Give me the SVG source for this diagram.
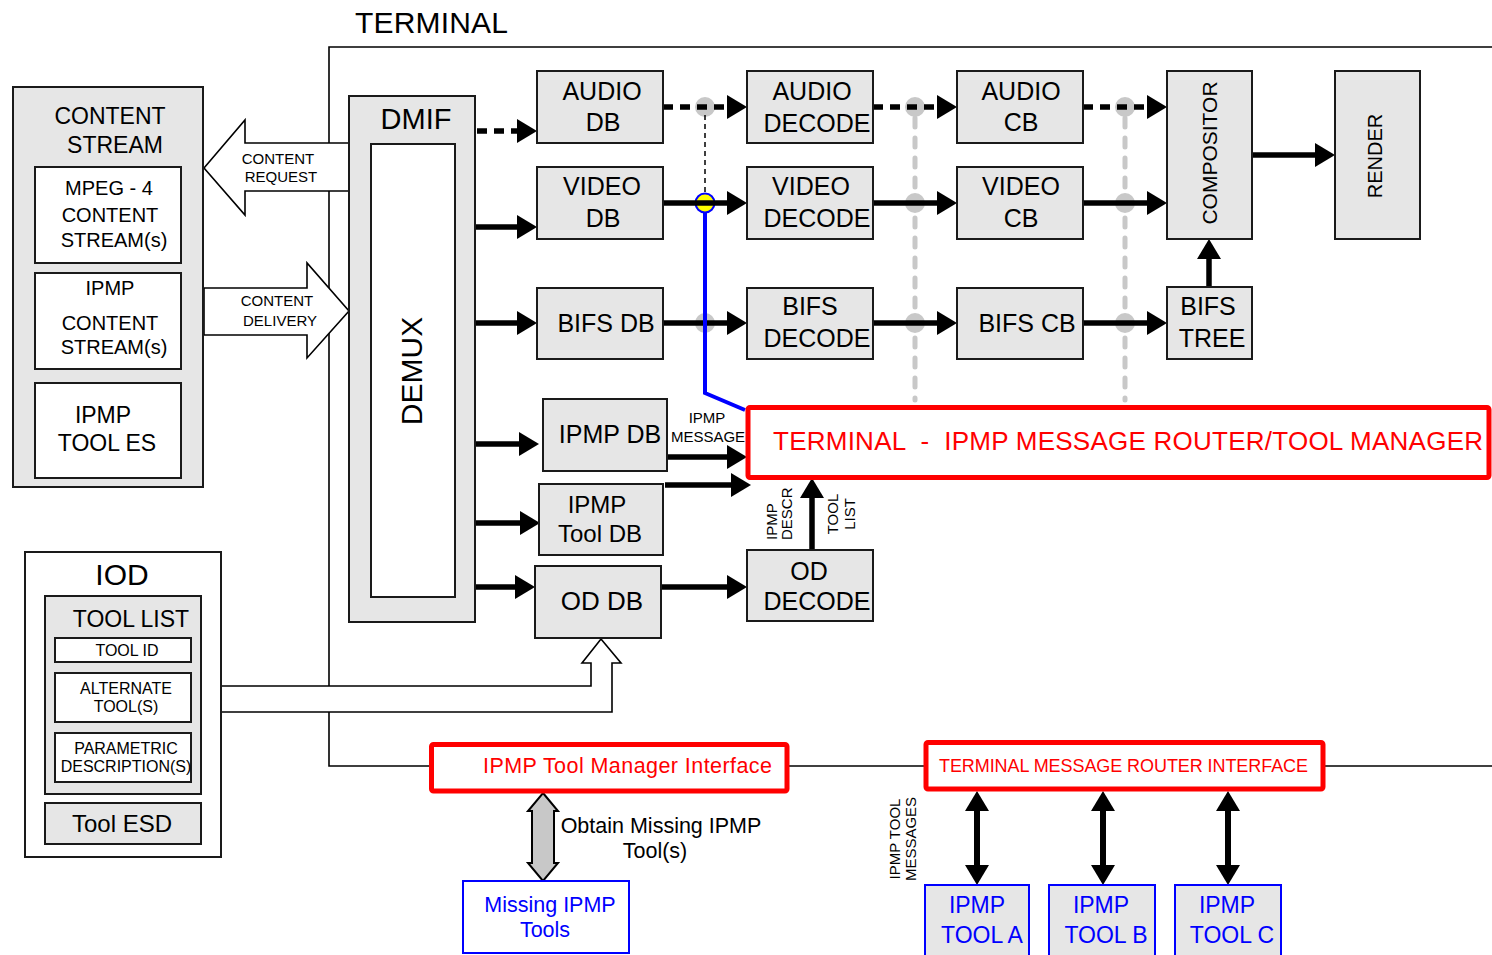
<svg xmlns="http://www.w3.org/2000/svg" width="1492" height="955" viewBox="0 0 1492 955">
<style>
text{font-family:"Liberation Sans",Arial,sans-serif;fill:#000}
.g{fill:#e6e6e6;stroke:#1a1a1a;stroke-width:2}
.w{fill:#fff;stroke:#1a1a1a;stroke-width:2}
.c{text-anchor:middle}
.f25{font-size:25px}
.f23{font-size:23px}
.f20{font-size:20px}
.f15{font-size:15px}
.f16{font-size:16px}
.ln{fill:none;stroke:#000;stroke-width:1.6}
.ar{fill:none;stroke:#000;stroke-width:5.5;marker-end:url(#ah)}
.da{stroke-dasharray:10 7}
.dbl{fill:none;stroke:#000;stroke-width:6;marker-start:url(#ah);marker-end:url(#ah)}
.gd{fill:none;stroke:#c8c8c8;stroke-width:5;stroke-linecap:round;stroke-dasharray:9 11}
.dot{fill:#c8c8c8}
.hol{fill:#fff;stroke:#000;stroke-width:1.6}
.red{fill:#fff;stroke:#ff0000;stroke-width:5}
.rt{fill:#ff0000}
.blu{fill:#fff;stroke:#0000ff;stroke-width:2}
.bg{fill:#e6e6e6;stroke:#0000ff;stroke-width:2}
.bt{fill:#0000ff}
</style>
<defs>
<marker id="ah" markerUnits="userSpaceOnUse" markerWidth="20" markerHeight="24" viewBox="0 0 20 24" refX="0" refY="12" orient="auto-start-reverse"><path d="M0,0 L20,12 L0,24 z" fill="#000"/></marker>
</defs>

<text x="355" y="33" font-size="30" textLength="153">TERMINAL</text>

<g id="terminal-outline">
<path class="ln" d="M1492,47 H329 V766 H431"/>
<path class="ln" d="M787,766 H926"/>
<path class="ln" d="M1323,766 H1492"/>
</g>

<g id="connectors">
<polygon class="hol" points="204,168 245,120 245,143 349,143 349,191 245,191 245,215"/>
<text class="c f15" x="278" y="164">CONTENT</text>
<text class="c f15" x="281" y="182">REQUEST</text>
<polygon class="hol" points="204,288 307,288 307,263 349,311 307,358 307,335 204,335"/>
<text class="c f15" x="277" y="306">CONTENT</text>
<text class="c f15" x="280" y="326">DELIVERY</text>
<polygon class="hol" points="221,686 591,686 591,663 582,663 601,639 621,663 612,663 612,712 221,712"/>

<path class="gd" d="M915,118 V400"/>
<path class="gd" d="M1125,118 V400"/>
<circle class="dot" cx="705" cy="107" r="10"/>
<circle class="dot" cx="705" cy="323" r="10"/>
<circle class="dot" cx="915" cy="107" r="10"/>
<circle class="dot" cx="915" cy="203" r="10"/>
<circle class="dot" cx="915" cy="323" r="10"/>
<circle class="dot" cx="1125" cy="107" r="10"/>
<circle class="dot" cx="1125" cy="203" r="10"/>
<circle class="dot" cx="1125" cy="323" r="10"/>
<path d="M705,115 V203" fill="none" stroke="#000" stroke-width="1.5" stroke-dasharray="5 4"/>
<circle cx="705" cy="203" r="9.5" fill="#ffff00" stroke="#0000ff" stroke-width="2"/>

<path class="ar da" d="M477,131 H517"/>
<path class="ar" d="M475,227 H517"/>
<path class="ar" d="M475,323 H517"/>
<path class="ar" d="M457,444 H519" stroke-linecap="round"/>
<path class="ar" d="M453,523 H520" stroke-linecap="round"/>
<path class="ar" d="M475,587 H515"/>
<path class="ar da" d="M663,107 H727"/>
<path class="ar" d="M663,203 H727"/>
<path class="ar" d="M663,323 H727"/>
<path class="ar da" d="M873,107 H937"/>
<path class="ar" d="M873,203 H937"/>
<path class="ar" d="M873,323 H937"/>
<path class="ar da" d="M1083,107 H1147"/>
<path class="ar" d="M1083,203 H1147"/>
<path class="ar" d="M1083,323 H1147"/>
<path class="ar" d="M1252,155 H1315"/>
<path class="ar" d="M1209,287 V259"/>
<path class="ar" d="M662,457 H727" stroke-linecap="round"/>
<path class="ar" d="M665,485 H731"/>
<path class="ar" d="M661,587 H727"/>
<path class="ar" d="M812,550 V498"/>
<path d="M705,212 V393 L745,410" fill="none" stroke="#0000ff" stroke-width="4"/>

<text class="c f15" x="707" y="423">IPMP</text>
<text class="c f15" x="708" y="442">MESSAGE</text>
<text class="f15" transform="translate(777,540) rotate(-90)">IPMP</text>
<text class="f15" transform="translate(792,540) rotate(-90)">DESCR</text>
<text class="c f15" transform="translate(838,514) rotate(-90)">TOOL</text>
<text class="c f15" transform="translate(855,514) rotate(-90)">LIST</text>

<polygon points="543,793 558,811 554,811 554,863 558,863 543,881 528,863 532,863 532,811 528,811" fill="#c8c8c8" stroke="#000" stroke-width="2"/>
<text class="c" x="661" y="833" font-size="21.5">Obtain Missing IPMP</text>
<text class="c" x="655" y="858" font-size="21.5">Tool(s)</text>

<path class="dbl" d="M977,811 V865"/>
<path class="dbl" d="M1103,811 V865"/>
<path class="dbl" d="M1228,811 V865"/>
<text class="c f15" transform="translate(900,839) rotate(-90)">IPMP TOOL</text>
<text class="c f15" transform="translate(916,839) rotate(-90)">MESSAGES</text>
</g>

<g id="content-stream">
<rect class="g" x="13" y="87" width="190" height="400"/>
<text class="c f23" x="110" y="124">CONTENT</text>
<text class="c f23" x="115" y="153">STREAM</text>
</g>
<g id="mpeg4-content">
<rect class="w" x="35" y="167" width="146" height="96"/>
<text class="c f20" x="109" y="195">MPEG - 4</text>
<text class="c f20" x="110" y="222">CONTENT</text>
<text class="c f20" x="114" y="247">STREAM(s)</text>
</g>
<g id="ipmp-content">
<rect class="w" x="35" y="273" width="146" height="96"/>
<text class="c f20" x="110" y="295">IPMP</text>
<text class="c f20" x="110" y="330">CONTENT</text>
<text class="c f20" x="114" y="354">STREAM(s)</text>
</g>
<g id="ipmp-tool-es">
<rect class="w" x="35" y="383" width="146" height="95"/>
<text class="c f23" x="103" y="423">IPMP</text>
<text class="c f23" x="107" y="451">TOOL ES</text>
</g>

<g id="dmif">
<rect class="g" x="349" y="96" width="126" height="526"/>
<rect class="w" x="371" y="144" width="84" height="453"/>
<text class="c" x="416" y="129" font-size="29">DMIF</text>
<text class="c" transform="translate(422,371) rotate(-90)" font-size="30">DEMUX</text>
</g>

<g id="audio-db"><rect class="g" x="537" y="71" width="126" height="72"/>
<text class="c f25" x="602" y="100">AUDIO</text><text class="c f25" x="603" y="131">DB</text></g>
<g id="video-db"><rect class="g" x="537" y="167" width="126" height="72"/>
<text class="c f25" x="602" y="195">VIDEO</text><text class="c f25" x="603" y="227">DB</text></g>
<g id="bifs-db"><rect class="g" x="537" y="288" width="126" height="71"/>
<text class="c f25" x="606" y="332">BIFS DB</text></g>
<g id="audio-decode"><rect class="g" x="747" y="71" width="126" height="72"/>
<text class="c f25" x="812" y="100">AUDIO</text><text class="c f25" x="817" y="132">DECODE</text></g>
<g id="video-decode"><rect class="g" x="747" y="167" width="126" height="72"/>
<text class="c f25" x="811" y="195">VIDEO</text><text class="c f25" x="817" y="227">DECODE</text></g>
<g id="bifs-decode"><rect class="g" x="747" y="288" width="126" height="71"/>
<text class="c f25" x="810" y="315">BIFS</text><text class="c f25" x="817" y="347">DECODE</text></g>
<g id="audio-cb"><rect class="g" x="957" y="71" width="126" height="72"/>
<text class="c f25" x="1021" y="100">AUDIO</text><text class="c f25" x="1021" y="131">CB</text></g>
<g id="video-cb"><rect class="g" x="957" y="167" width="126" height="72"/>
<text class="c f25" x="1021" y="195">VIDEO</text><text class="c f25" x="1021" y="227">CB</text></g>
<g id="bifs-cb"><rect class="g" x="957" y="288" width="126" height="71"/>
<text class="c f25" x="1027" y="332">BIFS CB</text></g>
<g id="compositor"><rect class="g" x="1167" y="71" width="85" height="168"/>
<text class="c" transform="translate(1217,153) rotate(-90)" font-size="21">COMPOSITOR</text></g>
<g id="render"><rect class="g" x="1335" y="71" width="85" height="168"/>
<text class="c" transform="translate(1382,156) rotate(-90)" font-size="20">RENDER</text></g>
<g id="bifs-tree"><rect class="g" x="1167" y="287" width="85" height="72"/>
<text class="c f25" x="1208" y="315">BIFS</text><text class="c f25" x="1212" y="347">TREE</text></g>

<g id="ipmp-db"><rect class="g" x="543" y="399" width="124" height="72"/>
<text class="c f25" x="610" y="443">IPMP DB</text></g>
<g id="ipmp-tool-db"><rect class="g" x="539" y="484" width="124" height="71"/>
<text class="c" x="597" y="513" font-size="24">IPMP</text><text class="c" x="600" y="542" font-size="24">Tool DB</text></g>
<g id="od-db"><rect class="g" x="535" y="566" width="126" height="72"/>
<text class="c" x="602" y="610" font-size="26">OD DB</text></g>
<g id="od-decode"><rect class="g" x="747" y="550" width="126" height="71"/>
<text class="c f25" x="809" y="580">OD</text><text class="c f25" x="817" y="610">DECODE</text></g>

<g id="router">
<rect class="red" x="748" y="407.5" width="741" height="70" rx="2"/>
<text class="rt" x="773" y="450" font-size="26" textLength="710" xml:space="preserve">TERMINAL  -  IPMP MESSAGE ROUTER/TOOL MANAGER</text>
</g>

<g id="iod">
<rect class="w" x="25" y="552" width="196" height="305"/>
<text class="c" x="122" y="585" font-size="30">IOD</text>
</g>
<g id="tool-list">
<rect class="g" x="45" y="596" width="156" height="198"/>
<text class="c f23" x="131" y="627">TOOL LIST</text>
<rect class="w" x="55" y="638" width="136" height="24"/>
<text class="c f16" x="127" y="656">TOOL ID</text>
<rect class="w" x="55" y="673" width="136" height="49"/>
<text class="c f16" x="126" y="694">ALTERNATE</text>
<text class="c f16" x="126" y="712">TOOL(S)</text>
<rect class="w" x="55" y="733" width="136" height="49"/>
<text class="c f16" x="126" y="754">PARAMETRIC</text>
<text class="c f16" x="126" y="772">DESCRIPTION(S)</text>
</g>
<g id="tool-esd">
<rect class="g" x="45" y="803" width="156" height="41"/>
<text class="c" x="122" y="832" font-size="24">Tool ESD</text>
</g>

<g id="tool-manager-interface">
<rect class="red" x="431.5" y="744.5" width="355.5" height="46.5" rx="2" stroke-width="4"/>
<text class="rt" x="483" y="773" font-size="21.5" textLength="289">IPMP Tool Manager Interface</text>
</g>
<g id="missing-tools">
<rect class="blu" x="463" y="881" width="166" height="72"/>
<text class="c bt" x="550" y="912" font-size="21.5">Missing IPMP</text>
<text class="c bt" x="545" y="937" font-size="21.5">Tools</text>
</g>
<g id="message-router-interface">
<rect class="red" x="926" y="742.5" width="397" height="46.5" rx="2" stroke-width="4.5"/>
<text class="rt" x="939" y="772" font-size="18" textLength="369">TERMINAL MESSAGE ROUTER INTERFACE</text>
</g>
<g id="tool-a"><rect class="bg" x="925" y="885" width="104" height="80"/>
<text class="c bt" x="977" y="913" font-size="23">IPMP</text><text class="c bt" x="982" y="943" font-size="23">TOOL A</text></g>
<g id="tool-b"><rect class="bg" x="1049" y="885" width="106" height="80"/>
<text class="c bt" x="1101" y="913" font-size="23">IPMP</text><text class="c bt" x="1106" y="943" font-size="23">TOOL B</text></g>
<g id="tool-c"><rect class="bg" x="1175" y="885" width="106" height="80"/>
<text class="c bt" x="1227" y="913" font-size="23">IPMP</text><text class="c bt" x="1232" y="943" font-size="23">TOOL C</text></g>
</svg>
